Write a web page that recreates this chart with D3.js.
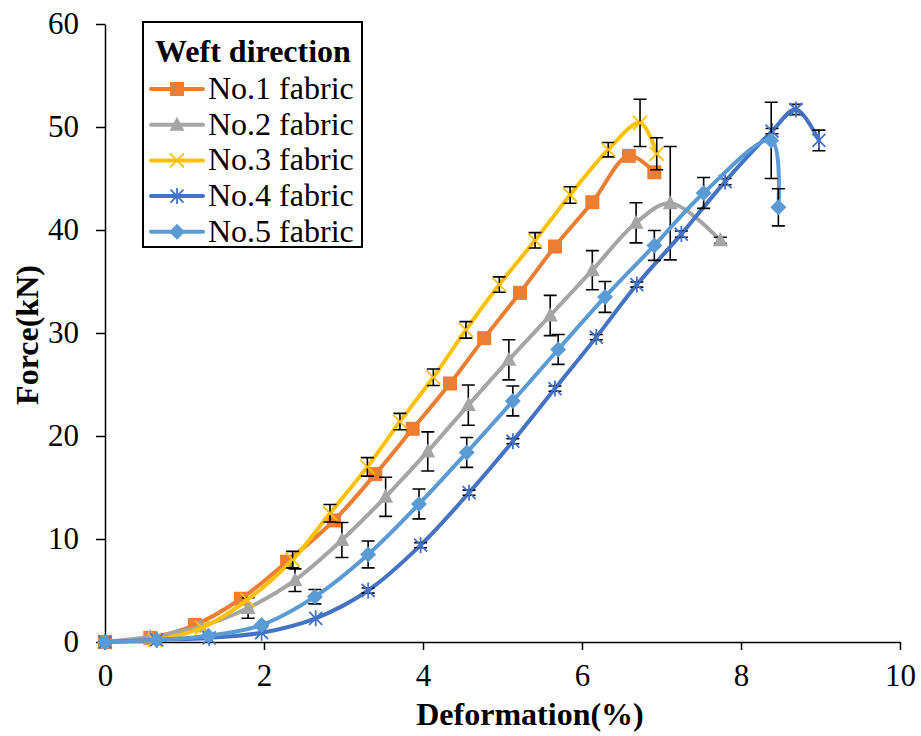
<!DOCTYPE html>
<html>
<head>
<meta charset="utf-8">
<script src="https://cdn.jsdelivr.net/npm/d3@7/dist/d3.min.js"></script>
<style>
  html, body { margin: 0; padding: 0; background: #fff; }
  svg { display: block; }
</style>
</head>
<body>
<svg id="chart" width="921" height="736"></svg>
<script>
// Tensile force vs deformation, weft direction
const seriesNames = ["No.1 fabric", "No.2 fabric", "No.3 fabric", "No.4 fabric", "No.5 fabric"];
const seriesColors = ["#ED7D31", "#A5A5A5", "#FFC000", "#4472C4", "#5B9BD5"];
const seriesMarkers = ["square", "triangle", "x", "star", "diamond"];

// deformation (%)
const fabric1X = [0, 0.57, 1.13, 1.71, 2.29, 2.88, 3.40, 3.87, 4.34, 4.77, 5.22, 5.66, 6.13, 6.59, 6.91];
const fabric2X = [0, 0.57, 1.20, 1.80, 2.39, 2.98, 3.53, 4.06, 4.57, 5.08, 5.60, 6.13, 6.68, 7.11, 7.74];
const fabric3X = [0, 0.63, 1.22, 1.79, 2.36, 2.83, 3.30, 3.71, 4.13, 4.54, 4.96, 5.41, 5.85, 6.33, 6.73, 6.94];
const fabric4X = [0, 0.65, 1.31, 1.97, 2.65, 3.31, 3.97, 4.58, 5.13, 5.66, 6.18, 6.69, 7.25, 7.80, 8.39, 8.69, 8.98];
const fabric5X = [0, 0.65, 1.30, 1.97, 2.64, 3.31, 3.95, 4.55, 5.13, 5.70, 6.29, 6.91, 7.53, 8.38, 8.47];

// force (kN)
const fabric1Y = [0, 0.4, 1.65, 4.2, 7.8, 11.8, 16.3, 20.7, 25.1, 29.5, 33.9, 38.4, 42.7, 47.2, 45.6];
const fabric2Y = [0, 0.5, 1.5, 3.3, 6.0, 9.9, 14.1, 18.5, 23.0, 27.4, 31.7, 36.1, 40.7, 42.6, 39.0];
const fabric3Y = [0, 0.2, 1.4, 4.1, 8.0, 12.5, 17.0, 21.4, 25.7, 30.3, 34.7, 39.0, 43.4, 47.8, 50.4, 47.4];
const fabric4Y = [0, 0.2, 0.4, 0.9, 2.3, 5.0, 9.4, 14.5, 19.5, 24.6, 29.6, 34.7, 39.6, 44.7, 49.6, 51.7, 48.7];
const fabric5Y = [0, 0.2, 0.6, 1.65, 4.4, 8.5, 13.4, 18.4, 23.4, 28.4, 33.5, 38.5, 43.6, 48.7, 42.2];

// standard deviation of force (kN)
const fabric1Err = [0, 0, 0, 0, 0, 0, 0, 0, 0, 0, 0, 0, 0, 0, 0];
const fabric2Err = [0, 0, 0, 1.0, 1.1, 1.7, 1.9, 1.9, 1.95, 1.95, 1.95, 1.9, 1.95, 5.5, 0.3];
const fabric3Err = [0, 0, 0, 0, 0.8, 0.85, 0.9, 0.8, 0.8, 0.8, 0.75, 0.75, 0.8, 0.7, 2.3, 1.55];
const fabric4Err = [0, 0, 0, 0, 0, 0.25, 0.25, 0.25, 0.25, 0.25, 0.25, 0.25, 0.3, 0.3, 0.25, 0.5, 1.0];
const fabric5Err = [0, 0, 0, 0, 0.7, 1.3, 1.45, 1.45, 1.45, 1.45, 1.5, 1.45, 1.5, 3.7, 1.8];

const xTicks = [0, 2, 4, 6, 8, 10];
const yTicks = [0, 10, 20, 30, 40, 50, 60];

const FONT = "'Liberation Serif', 'Times New Roman', serif";

const xs = [fabric1X, fabric2X, fabric3X, fabric4X, fabric5X];
const ys = [fabric1Y, fabric2Y, fabric3Y, fabric4Y, fabric5Y];
const errs = [fabric1Err, fabric2Err, fabric3Err, fabric4Err, fabric5Err];

const series = seriesNames.map((name, i) => ({
  name,
  color: seriesColors[i],
  marker: seriesMarkers[i],
  points: xs[i].map((x, j) => ({ x, y: ys[i][j], e: errs[i][j] }))
}));

const svg = d3.select("#chart");
const x = d3.scaleLinear().domain([0, 10]).range([105, 900]);
const y = d3.scaleLinear().domain([0, 60]).range([642, 24]);

// axes
const xAxis = svg.append("g").attr("transform", `translate(0,${y(0)})`)
  .call(d3.axisBottom(x).tickValues(xTicks).tickSize(8).tickPadding(14).tickSizeOuter(0));
const yAxis = svg.append("g").attr("transform", `translate(${x(0)},0)`)
  .call(d3.axisLeft(y).tickValues(yTicks).tickSize(9).tickPadding(17).tickSizeOuter(0));
[xAxis, yAxis].forEach(a => {
  a.attr("font-family", null).attr("font-size", null);
  a.selectAll("path.domain").attr("stroke", "#000").attr("stroke-width", 1.5);
  a.selectAll(".tick line").attr("stroke", "#000").attr("stroke-width", 1.5);
  a.selectAll(".tick text").style("font-family", FONT).style("font-size", "31px").attr("fill", "#000");
});
xAxis.selectAll(".tick text").attr("dy", "0.71em");

// axis titles
svg.append("text").attr("x", 530).attr("y", 725).attr("text-anchor", "middle")
  .style("font-family", FONT).style("font-size", "32px").style("font-weight", "bold").text("Deformation(%)");
svg.append("text").attr("transform", "translate(38,335) rotate(-90)").attr("text-anchor", "middle")
  .style("font-family", FONT).style("font-size", "32px").style("font-weight", "bold").text("Force(kN)");

const line = d3.line().x(d => x(d.x)).y(d => y(d.y)).curve(d3.curveCatmullRom.alpha(0.5));

function drawMarker(g, type, cx, cy, color) {
  const s = 7;
  if (type === "square") {
    g.append("rect").attr("x", cx - s).attr("y", cy - s).attr("width", 2 * s).attr("height", 2 * s).attr("fill", color);
  } else if (type === "triangle") {
    g.append("path").attr("d", `M${cx},${cy - 8}L${cx + 7.5},${cy + 6}L${cx - 7.5},${cy + 6}Z`).attr("fill", color);
  } else if (type === "diamond") {
    g.append("path").attr("d", `M${cx},${cy - 8}L${cx + 8},${cy}L${cx},${cy + 8}L${cx - 8},${cy}Z`).attr("fill", color);
  } else if (type === "x") {
    g.append("path").attr("d", `M${cx - 7},${cy - 7}L${cx + 7},${cy + 7}M${cx - 7},${cy + 7}L${cx + 7},${cy - 7}`)
      .attr("stroke", color).attr("stroke-width", 1.8).attr("fill", "none");
  } else if (type === "star") {
    g.append("path").attr("d", `M${cx - 6.5},${cy - 6.5}L${cx + 6.5},${cy + 6.5}M${cx - 6.5},${cy + 6.5}L${cx + 6.5},${cy - 6.5}M${cx},${cy - 8}L${cx},${cy + 8}`)
      .attr("stroke", color).attr("stroke-width", 1.8).attr("fill", "none");
  }
}

// series: line, error bars, markers
series.forEach(s => {
  const g = svg.append("g");
  g.append("path").datum(s.points).attr("d", line)
    .attr("fill", "none").attr("stroke", s.color).attr("stroke-width", 4).attr("stroke-linecap", "round");
  const eb = g.append("g").attr("stroke", "#000").attr("stroke-width", 1.6).attr("fill", "none");
  s.points.filter(p => p.e > 0).forEach(p => {
    const px = x(p.x), y1 = y(p.y + p.e), y2 = y(p.y - p.e);
    eb.append("path").attr("d", `M${px},${y1}V${y2}M${px - 6.5},${y1}H${px + 6.5}M${px - 6.5},${y2}H${px + 6.5}`);
  });
  const mg = g.append("g");
  s.points.forEach(p => drawMarker(mg, s.marker, x(p.x), y(p.y), s.color));
});

// legend
const lg = svg.append("g");
lg.append("rect").attr("x", 143).attr("y", 22).attr("width", 219).attr("height", 225)
  .attr("fill", "#fff").attr("stroke", "#000").attr("stroke-width", 2);
lg.append("text").attr("x", 253).attr("y", 62).attr("text-anchor", "middle")
  .style("font-family", FONT).style("font-size", "32px").style("font-weight", "bold").text("Weft direction");
series.forEach((s, i) => {
  const by = 99 + i * 35.7;
  const cy = by - 10;
  lg.append("line").attr("x1", 151).attr("x2", 203).attr("y1", cy).attr("y2", cy)
    .attr("stroke", s.color).attr("stroke-width", 4).attr("stroke-linecap", "round");
  drawMarker(lg, s.marker, 177, cy, s.color);
  lg.append("text").attr("x", 208).attr("y", by)
    .style("font-family", FONT).style("font-size", "32px").text(s.name);
});
</script>
</body>
</html>
